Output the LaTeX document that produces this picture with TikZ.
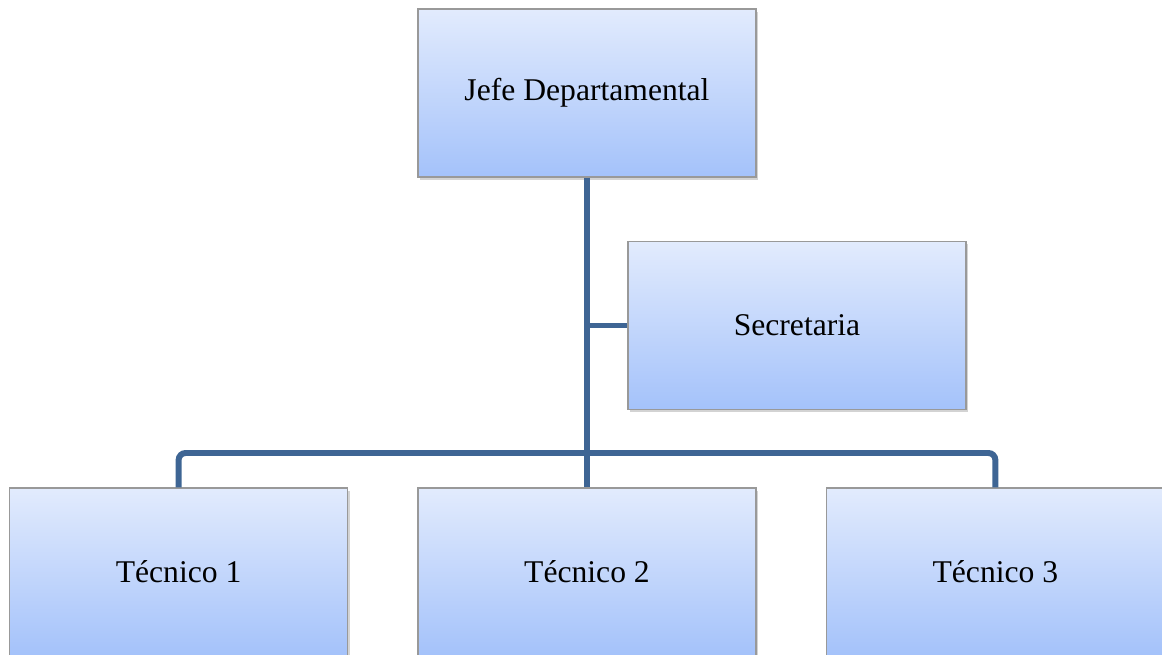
\documentclass[tikz,border=0pt]{standalone}
\usepackage{fontspec}
\setmainfont{Liberation Serif}
\usepackage{tikz}
\usetikzlibrary{shadows,calc,positioning}
\definecolor{linkblue}{HTML}{3E6594}
\definecolor{boxtop}{HTML}{E2EBFD}
\definecolor{boxbottom}{HTML}{A4C2FA}
\tikzset{
    node distance = 0.69cm and 0.69cm,
    post/.style ={rectangle, draw=gray!80, thin, top color=boxtop, bottom color=boxbottom,
                  minimum width=3.38cm, minimum height=1.68cm, inner sep=0pt,
                  font=\fontsize{9}{11}\selectfont,
                  drop shadow={shadow xshift=0.6pt, shadow yshift=-0.8pt, opacity=0.35}},
    conn/.style = {draw=linkblue, line width=1.7pt}
}
\begin{document}
\begin{tikzpicture}
	\clip (0,0) rectangle (11.62,6.54);
	\node[post] (jefe) at (5.87,5.61) {Jefe Departamental};
	\node[post] (sec) at (7.97,3.285) {Secretaria};
	\node[post] (tec2) at (5.87,0.82) {Técnico 2};
	\node[post] (tec1) [left = of tec2] {Técnico 1};
	\node[post] (tec3) [right = of tec2] {Técnico 3};
	\coordinate (bus) at (5.87,2.01);

	% lines
	\draw[conn] (jefe.south) -- (tec2.north);
	\draw[conn] (jefe.south |- sec.west) -- (sec.west);
	\draw[conn, rounded corners=2pt] (tec1.north) |- (bus) -| (tec3.north);
\end{tikzpicture}
\end{document}
